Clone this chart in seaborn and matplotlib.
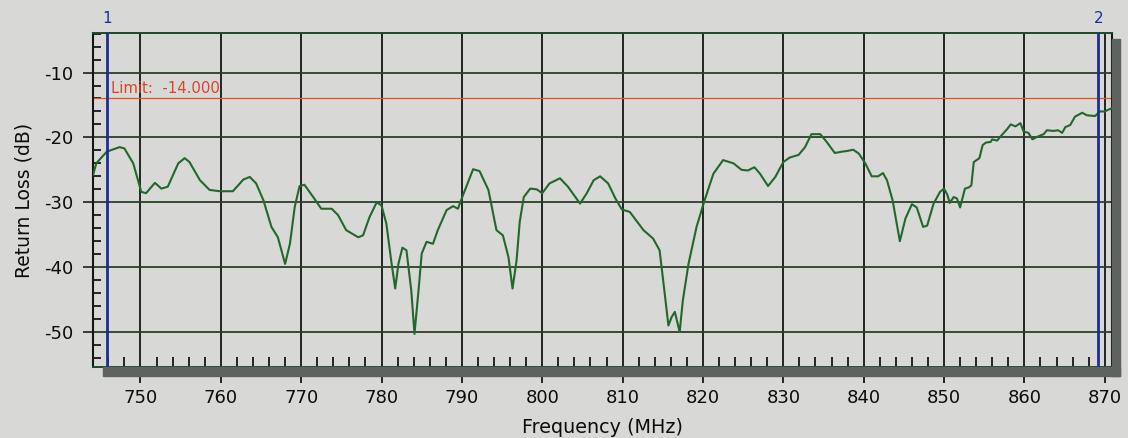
import matplotlib
matplotlib.use("Agg")
import matplotlib.pyplot as plt
from matplotlib.patches import Rectangle
from matplotlib.ticker import MultipleLocator
import seaborn as sns

# Return-loss sweep, frequency in MHz and level in dB
freq_mhz = [
    744.1, 744.5, 745.8, 747.4, 748.0, 749.1, 750.1, 750.7, 751.8, 752.6,
    753.4, 754.7, 755.5, 756.1, 757.4, 758.6, 759.9, 761.5, 762.8, 763.6,
    764.4, 765.3, 766.3, 767.1, 768.0, 768.6, 769.2, 769.8, 770.4, 771.5,
    772.5, 773.8, 774.6, 775.6, 777.1, 777.7, 778.5, 779.4, 780.0, 780.6,
    781.2, 781.7, 782.1, 782.6, 783.1, 783.7, 784.1, 784.6, 785.0, 785.6,
    786.4, 787.0, 788.1, 788.9, 789.5, 790.2, 791.4, 792.2, 793.3, 794.3,
    795.1, 795.8, 796.3, 796.8, 797.2, 797.7, 798.5, 799.3, 800.0, 800.9,
    802.2, 803.2, 804.7, 805.5, 806.4, 807.2, 808.2, 809.1, 809.9, 810.9,
    812.6, 813.8, 814.6, 815.1, 815.7, 816.1, 816.5, 817.1, 817.5, 818.2,
    819.2, 820.2, 821.3, 822.5, 823.8, 824.8, 825.6, 826.4, 827.1, 828.1,
    829.0, 830.0, 830.8, 831.9, 832.7, 833.5, 834.6, 835.4, 836.4, 837.3,
    837.9, 838.7, 839.4, 840.2, 841.0, 841.8, 842.4, 842.9, 843.6, 844.5,
    845.2, 846.0, 846.6, 847.4, 847.9, 848.7, 849.5, 850.0, 850.4, 850.7,
    851.2, 851.6, 852.0, 852.6, 853.1, 853.4, 853.7, 854.4, 854.8, 855.2,
    855.8, 856.0, 856.6, 857.0, 857.8, 858.3, 858.9, 859.5, 859.9, 860.5,
    861.0, 861.6, 862.4, 862.8, 863.6, 864.2, 864.7, 865.1, 865.7, 866.3,
    867.2, 867.8, 868.8, 869.4, 870.0, 870.5, 870.9,
]
return_loss_db = [
    -25.8, -24.0, -22.2, -21.5, -21.7, -24.0, -28.4, -28.6, -27.0, -27.9,
    -27.6, -24.0, -23.2, -23.8, -26.6, -28.1, -28.3, -28.3, -26.5, -26.1,
    -27.1, -29.7, -33.8, -35.4, -39.5, -36.4, -30.7, -27.5, -27.3, -29.2,
    -31.0, -31.0, -32.0, -34.3, -35.4, -35.1, -32.3, -30.0, -30.5, -33.3,
    -39.0, -43.3, -39.5, -37.0, -37.4, -43.6, -50.3, -43.6, -37.9, -36.1,
    -36.4, -34.3, -31.2, -30.6, -31.0, -28.7, -24.9, -25.2, -28.1, -34.3,
    -35.1, -38.5, -43.3, -39.0, -33.0, -29.2, -27.9, -28.0, -28.6, -27.1,
    -26.3, -27.6, -30.2, -28.7, -26.6, -26.0, -27.1, -29.4, -31.1, -31.5,
    -34.3, -35.6, -37.4, -42.6, -49.0, -47.7, -46.9, -50.0, -45.1, -39.5,
    -33.8, -29.7, -25.6, -23.5, -24.0, -25.0, -25.1, -24.6, -25.6, -27.5,
    -26.1, -23.8, -23.1, -22.7, -21.5, -19.5, -19.5, -20.7, -22.4, -22.2,
    -22.1, -21.9, -22.5, -24.0, -26.0, -26.0, -25.5, -26.6, -29.7, -36.0,
    -32.5, -30.3, -30.8, -33.8, -33.6, -30.2, -28.4, -27.9, -28.8, -30.1,
    -29.2, -29.4, -30.8, -27.9, -27.7, -27.4, -23.8, -23.2, -21.2, -20.8,
    -20.7, -20.3, -20.5, -19.9, -18.8, -18.0, -18.3, -17.8, -19.1, -19.3,
    -20.3, -19.9, -19.5, -18.9, -19.0, -18.9, -19.3, -18.4, -18.1, -16.8,
    -16.2, -16.6, -16.7, -16.0, -16.0, -15.7, -15.5,
]

limit_db = -14.0
limit_label = "Limit:  -14.000"
marker_freqs = [745.8, 869.2]
marker_names = ["1", "2"]

x_major_ticks = list(range(750, 871, 10))
y_major_ticks = [-10, -20, -30, -40, -50]

sns.set_theme(style="white")
plt.rcParams["font.family"] = ["DejaVu Sans"]
plt.rcParams["axes.unicode_minus"] = False

ink = "#0c0c0c"
paper = "#d8d8d6"
fig = plt.figure(figsize=(11.28, 4.38), dpi=100, facecolor=paper)
ax = fig.add_axes([0.0825, 0.1621, 0.9033, 0.7626])
ax.set_facecolor(paper)

# drop shadow under and to the right of the plot frame
shadow = "#5f635f"
fig.patches.append(Rectangle((103 / 1128, 1 - 375.5 / 438), (1120 - 103) / 1128, 8.5 / 438,
                             transform=fig.transFigure, color=shadow, zorder=0))
fig.patches.append(Rectangle((1112 / 1128, 1 - 375.5 / 438), 8 / 1128, (375.5 - 39) / 438,
                             transform=fig.transFigure, color=shadow, zorder=0))

ax.set_xlim(744.1, 870.9)
ax.set_ylim(-55.4, -3.9)

# vertical grid at every 10 MHz
for xv in x_major_ticks:
    ax.axvline(xv, color="#161616", lw=1.3, zorder=1)

# horizontal grid
for yv in y_major_ticks:
    ax.axhline(yv, color="#2c3f27", lw=1.3, zorder=1)

# limit line
ax.axhline(limit_db, color="#e2561e", lw=0.9, zorder=2)
ax.text(746.3, limit_db + 1.6, limit_label, color="#d8452a", fontsize=10.7,
        va="center", ha="left", zorder=3)

# measured trace
sns.lineplot(x=freq_mhz, y=return_loss_db, ax=ax, color="#22682b", lw=1.5,
             estimator=None, sort=False, zorder=4)

# markers
for mf, name in zip(marker_freqs, marker_names):
    ax.axvline(mf, color="#1b2f92", lw=2.0, zorder=5)
    ax.text(mf, -1.6, name, color="#1b2f92", fontsize=11, ha="center",
            va="center", clip_on=False)

ax.set_xticks(x_major_ticks)
ax.set_yticks(y_major_ticks)
ax.xaxis.set_minor_locator(MultipleLocator(2))
ax.yaxis.set_minor_locator(MultipleLocator(2))
ax.tick_params(axis="x", which="major", direction="out", length=11.5, width=1.3,
               color="#161616", pad=4, labelsize=13, labelcolor=ink, bottom=True)
ax.tick_params(axis="x", which="minor", direction="in", length=7, width=1.3,
               color="#161616", bottom=True)
ax.tick_params(axis="y", which="major", direction="out", length=7.5, width=1.3,
               color="#3a2a22", pad=7, labelsize=13, labelcolor=ink, left=True)
ax.tick_params(axis="y", which="minor", direction="in", length=6, width=1.3,
               color="#161616", left=True)

for side in ["left", "right"]:
    ax.spines[side].set_color("#161616")
    ax.spines[side].set_linewidth(1.5)
for side in ["top", "bottom"]:
    ax.spines[side].set_color("#1f4a2c")
    ax.spines[side].set_linewidth(1.4)

ax.set_xlabel("Frequency (MHz)", fontsize=13.8, labelpad=8, color=ink)
ax.set_ylabel("Return Loss (dB)", fontsize=13.5, labelpad=7, color=ink)

fig.savefig("out.png", dpi=100, facecolor=paper)
